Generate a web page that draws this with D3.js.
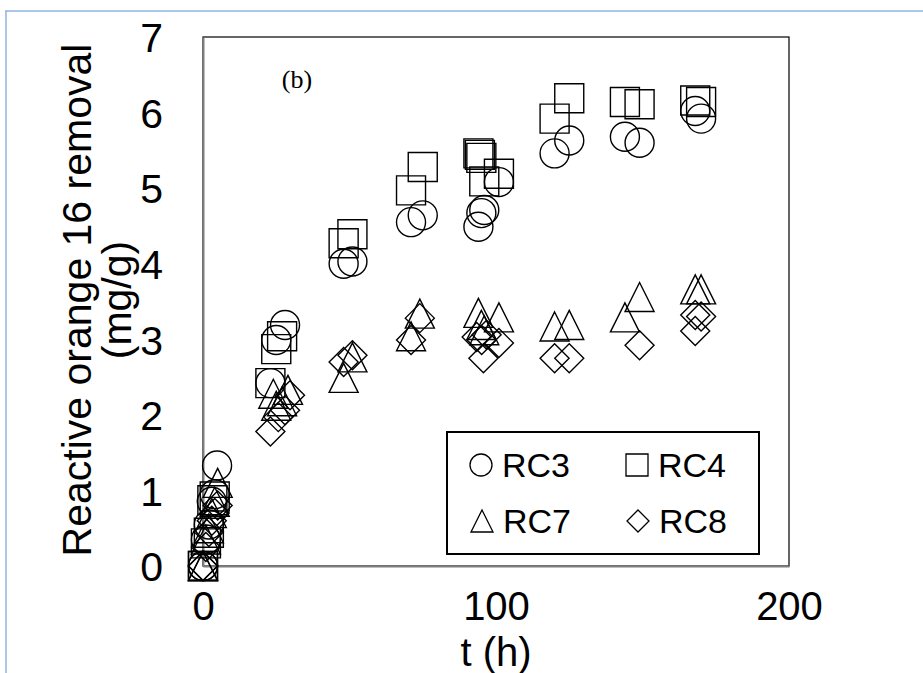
<!DOCTYPE html>
<html>
<head>
<meta charset="utf-8">
<script src="https://cdn.jsdelivr.net/npm/d3@7"></script>
<style>
  html, body { margin: 0; padding: 0; background: #fff; }
  svg { display: block; }
</style>
</head>
<body>
<svg id="chart" width="923" height="673"></svg>
<script>
// Removal of Reactive orange 16 over time, four adsorbents (replicate runs)
const seriesNames = ["RC3", "RC4", "RC7", "RC8"];

const rc3Time  = [0, 0, 1, 2, 3, 4, 4.8, 23, 25, 28, 48, 51, 71, 75, 94, 95, 96, 101, 120, 125, 144, 149, 168, 170];
const rc3Value = [0, 0, 0.35, 0.55, 0.85, 0.95, 1.33, 2.42, 2.99, 3.19, 4.0, 4.03, 4.55, 4.64, 4.49, 4.67, 4.71, 5.08, 5.46, 5.63, 5.68, 5.6, 6.02, 5.92];

const rc4Time  = [0, 0, 1, 2, 3.2, 4, 23, 25, 27, 48, 51, 71, 75, 94, 94.5, 95, 96, 101, 120, 125, 144, 149, 168, 170];
const rc4Value = [0, 0, 0.3, 0.44, 0.87, 0.92, 2.42, 2.87, 3.04, 4.27, 4.39, 4.97, 5.28, 5.46, 5.44, 5.4, 5.09, 5.19, 5.92, 6.19, 6.14, 6.11, 6.16, 6.14];

const rc7Time  = [0, 0, 1, 2, 3, 4, 5, 24, 25, 27, 29, 48, 51, 71, 74, 94, 95, 96, 101, 120, 125, 144, 149, 168, 170];
const rc7Value = [0, 0, 0.35, 0.5, 0.7, 0.85, 1.1, 2.28, 2.12, 2.18, 2.33, 2.49, 2.76, 3.04, 3.34, 3.35, 3.19, 3.12, 3.29, 3.17, 3.19, 3.29, 3.56, 3.66, 3.66];

const rc8Time  = [0, 0, 1, 2, 3, 4, 5, 23, 25.7, 28, 29.7, 48, 51, 71, 74, 93.4, 95.1, 95.7, 96.8, 101, 120, 125, 149, 168, 168, 170];
const rc8Value = [0, 0, 0.25, 0.45, 0.6, 0.7, 0.8, 1.78, 1.97, 2.06, 2.26, 2.7, 2.79, 2.99, 3.28, 3.03, 2.99, 2.75, 3.06, 2.95, 2.75, 2.75, 2.92, 3.11, 3.32, 3.3];

const xTicks = [0, 100, 200];
const yTicks = [0, 1, 2, 3, 4, 5, 6, 7];

const xTitle = "t (h)";
const yTitleLines = ["Reactive orange 16 removal", "(mg/g)"];
const panelTag = "(b)";

// Open marker shapes drawn by d3.symbol; size is the marker's full width
const shapeCircle = { draw(ctx, s) { const r = s / 2; ctx.moveTo(r, 0); ctx.arc(0, 0, r, 0, 2 * Math.PI); } };
const shapeSquare = { draw(ctx, s) { const h = s / 2; ctx.rect(-h, -h, s, s); } };
const shapeTriangle = { draw(ctx, s) { const h = s / 2; ctx.moveTo(0, -h); ctx.lineTo(h, h); ctx.lineTo(-h, h); ctx.closePath(); } };
const shapeDiamond = { draw(ctx, s) { const h = s / 2; ctx.moveTo(0, -h); ctx.lineTo(h, 0); ctx.lineTo(0, h); ctx.lineTo(-h, 0); ctx.closePath(); } };

const series = [
  { name: seriesNames[0], t: rc3Time, v: rc3Value, shape: shapeCircle },
  { name: seriesNames[1], t: rc4Time, v: rc4Value, shape: shapeSquare },
  { name: seriesNames[2], t: rc7Time, v: rc7Value, shape: shapeTriangle },
  { name: seriesNames[3], t: rc8Time, v: rc8Value, shape: shapeDiamond }
];

const svg = d3.select("#chart");
const FONT = "'Liberation Sans', Arial, sans-serif";
const FS = 41;

// outer frame lines
svg.append("line").attr("x1", 5).attr("y1", 11).attr("x2", 923).attr("y2", 11)
  .attr("stroke", "#8fb5df").attr("stroke-width", 1.5);
svg.append("line").attr("x1", 6).attr("y1", 11).attr("x2", 6).attr("y2", 673)
  .attr("stroke", "#8fb5df").attr("stroke-width", 1.5);

const x = d3.scaleLinear().domain([0, 200]).range([203, 789]);
const y = d3.scaleLinear().domain([0, 7]).range([566, 37]);

// plot area box
svg.append("rect")
  .attr("x", x(0)).attr("y", y(7))
  .attr("width", x(200) - x(0)).attr("height", y(0) - y(7))
  .attr("fill", "none").attr("stroke", "#000").attr("stroke-width", 1.2);

// axes (no tick marks, labels only)
const xAxis = svg.append("g").attr("transform", `translate(0,${y(0)})`)
  .call(d3.axisBottom(x).tickValues(xTicks).tickSize(0).tickPadding(26).tickFormat(d3.format("d")));
const yAxis = svg.append("g").attr("transform", `translate(${x(0)},0)`)
  .call(d3.axisLeft(y).tickValues(yTicks).tickSize(0).tickPadding(40).tickFormat(d3.format("d")));

[xAxis, yAxis].forEach(g => {
  g.select(".domain").attr("stroke", "#7f7f7f").attr("stroke-width", 2);
  g.selectAll("text").attr("font-family", FONT).attr("font-size", FS).attr("fill", "#000");
});
xAxis.selectAll("text").attr("font-size", 40).attr("dy", "0.71em");
yAxis.selectAll("text").attr("dy", "0.36em");

// axis titles
svg.append("text").attr("x", x(100)).attr("y", 666)
  .attr("text-anchor", "middle").attr("font-family", FONT).attr("font-size", 40)
  .text(xTitle);

const yTitle = svg.append("text")
  .attr("transform", "translate(0,300) rotate(-90)")
  .attr("text-anchor", "middle").attr("font-family", FONT).attr("font-size", FS);
yTitle.append("tspan").attr("x", 0).attr("y", 91).text(yTitleLines[0]);
yTitle.append("tspan").attr("x", 0).attr("y", 131).text(yTitleLines[1]);

// panel tag
svg.append("text").attr("x", 297).attr("y", 88)
  .attr("text-anchor", "middle").attr("font-family", "'Liberation Serif', 'Times New Roman', serif")
  .attr("font-size", 26).text(panelTag);

// markers
const markerSize = 29;
series.forEach(s => {
  const pts = s.t.map((t, i) => ({ t, v: s.v[i] }));
  svg.append("g").selectAll("path").data(pts).join("path")
    .attr("transform", d => `translate(${x(d.t)},${y(d.v)})`)
    .attr("d", d3.symbol().type(s.shape).size(markerSize))
    .attr("fill", "none").attr("stroke", "#000").attr("stroke-width", 1.4);
});

// legend
const legend = svg.append("g");
legend.append("rect").attr("x", 447).attr("y", 432).attr("width", 312).attr("height", 122)
  .attr("fill", "#fff").attr("stroke", "#000").attr("stroke-width", 2);
const legendPos = [[481, 465], [637, 465], [482, 521], [638, 521]];
series.forEach((s, i) => {
  const [lx, ly] = legendPos[i];
  legend.append("path").attr("transform", `translate(${lx},${ly})`)
    .attr("d", d3.symbol().type(s.shape).size(22))
    .attr("fill", "none").attr("stroke", "#000").attr("stroke-width", 1.3);
  legend.append("text").attr("x", lx + 21).attr("y", ly + 12)
    .attr("font-family", FONT).attr("font-size", 34).text(s.name);
});
</script>
</body>
</html>
